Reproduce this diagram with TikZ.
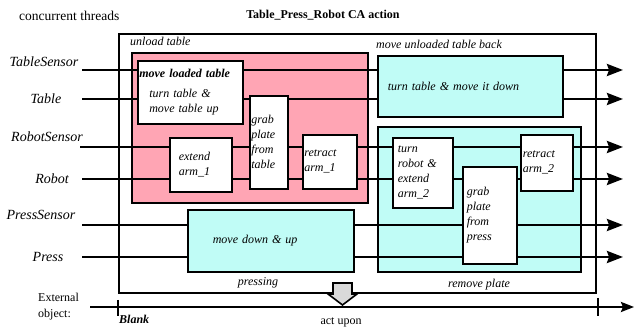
\documentclass[tikz,border=0pt]{standalone}
\usepackage{fontspec}
\setmainfont{Liberation Serif}
\usepackage{xcolor}
\usepackage{tikz}
\usetikzlibrary{arrows.meta}
\definecolor{cUnload}{HTML}{FFA5B4}
\definecolor{cBack}{HTML}{C0FCF6}
\definecolor{cAct}{HTML}{D9D9D9}
\tikzset{
  frame/.style={rectangle, draw=black, line width=1.6pt, anchor=north west, inner sep=0pt},
  task/.style={rectangle, draw=black, line width=1.6pt, fill=white, anchor=north west,
    align=left, inner ysep=0pt, font=\fontsize{12}{15}\selectfont\itshape},
  tag/.style={font=\fontsize{12}{14}\selectfont\itshape, inner sep=0pt},
  thread/.style={font=\fontsize{14}{16}\selectfont\itshape, inner sep=0pt},
  flow/.style={line width=2.6pt, -{Stealth[length=16pt, width=12pt, inset=2pt]}},
}

\begin{document}
\begin{tikzpicture}[x=1pt, y=-1pt]
\useasboundingbox (0,0) rectangle (635,328);
% headings
\node[font=\fontsize{13.5}{15}\selectfont, inner sep=0pt, anchor=west] (conc) at (19,16) {concurrent threads};
\node[font=\fontsize{12}{14}\selectfont\bfseries, inner sep=0pt] (title) at (323,15) {Table\_Press\_Robot CA action};
% CA action frame and its nested actions
\node[frame, fill=white, minimum width=477, minimum height=259] (ca) at (118,33) {};
\node[frame, fill=cUnload, minimum width=236, minimum height=150] (unload) at (131,52) {};
\node[frame, fill=cBack, minimum width=203, minimum height=145] (remove) at (377,126) {};
\node[tag, anchor=west] (unloadTag) at (130,41) {unload table};
\node[tag, anchor=west] (backTag) at (376,44) {move unloaded table back};
\node[tag] (pressTag) at (258,283) {pressing};
\node[tag] (removeTag) at (479,285) {remove plate};
% threads
\node[thread] (tsLbl) at (44,62) {TableSensor};
\node[thread] (tLbl) at (46,99) {Table};
\node[thread] (rsLbl) at (47,137) {RobotSensor};
\node[thread] (rLbl) at (52,179) {Robot};
\node[thread] (psLbl) at (41,215) {PressSensor};
\node[thread] (pLbl) at (48,257) {Press};
\coordinate (tsIn) at (82,70);   \coordinate (tsOut) at (623,70);
\coordinate (tIn) at (82,99);    \coordinate (tOut) at (623,99);
\coordinate (rsIn) at (80,147);  \coordinate (rsOut) at (623,147);
\coordinate (rIn) at (82,179);   \coordinate (rOut) at (623,179);
\coordinate (psIn) at (82,225);  \coordinate (psOut) at (623,225);
\coordinate (pIn) at (82,257);   \coordinate (pOut) at (623,257);
\draw[flow] (tsIn) -- (tsOut);
\draw[flow] (tIn) -- (tOut);
\draw[flow] (rsIn) -- (rsOut);
\draw[flow] (rIn) -- (rOut);
\draw[flow] (psIn) -- (psOut);
\draw[flow] (pIn) -- (pOut);
% steps
\node[task, minimum width=105, minimum height=63, inner xsep=1.5pt, text width=102pt] (loaded) at (137,60)
  {\textbf{move loaded table}\\[5pt]\hspace*{10pt}turn table \&\\\hspace*{10pt}move table up};
\node[task, minimum width=38, minimum height=93, inner xsep=1.5pt, text width=35pt] (grabT) at (249,95)
  {grab\\plate\\from\\table};
\node[task, minimum width=62, minimum height=54, inner xsep=9pt, text width=44pt] (ext1) at (169,137)
  {extend\\arm\_1};
\node[task, minimum width=54, minimum height=54, inner xsep=1.5pt, text width=51pt] (ret1) at (302,134)
  {retract\\arm\_1};
\node[task, fill=cBack, minimum width=185, minimum height=61, inner xsep=10pt, text width=165pt] (down) at (377,55)
  {turn table \& move it down};
\node[task, fill=cBack, minimum width=166, minimum height=62, inner xsep=25pt, text width=116pt] (press) at (187,209)
  {move down \& up};
\node[task, minimum width=60, minimum height=70, inner xsep=5pt, text width=50pt] (ext2) at (392,137)
  {turn\\robot \&\\extend\\arm\_2};
\node[task, minimum width=54, minimum height=97, inner xsep=4pt, text width=46pt] (grabP) at (462,166)
  {grab\\plate\\from\\press};
\node[task, minimum width=52, minimum height=56, inner xsep=2pt, text width=48pt] (ret2) at (520,134)
  {retract\\arm\_2};
% external object
\node[font=\fontsize{12}{16}\selectfont, inner sep=0pt, align=left, anchor=west] (ext) at (38,307) {External\\object:};
\coordinate (blankIn) at (90,307);
\coordinate (blankOut) at (634,307);
\coordinate (blankA) at (118,307);
\coordinate (blankB) at (598,307);
\draw[line width=2.4pt, -{Stealth[length=13pt, width=10pt, inset=2pt]}] (blankIn) -- (blankOut);
\draw[line width=2.4pt] (blankA) ++(0,-7) -- ++(0,16);
\draw[line width=2.4pt] (blankB) ++(0,-9) -- ++(0,18);
\node[font=\fontsize{12}{14}\selectfont\bfseries\itshape, inner sep=0pt, anchor=west] (blank) at (119,319) {Blank};
% act upon
\draw[line width=1.6pt, fill=cAct] (333,283) -- (352,283) -- (352,294) -- (357,294) -- (342.5,305)
  -- (328,294) -- (333,294) -- cycle;
\node[font=\fontsize{12}{14}\selectfont, inner sep=0pt] (act) at (341,322) {act upon};
\end{tikzpicture}
\end{document}
